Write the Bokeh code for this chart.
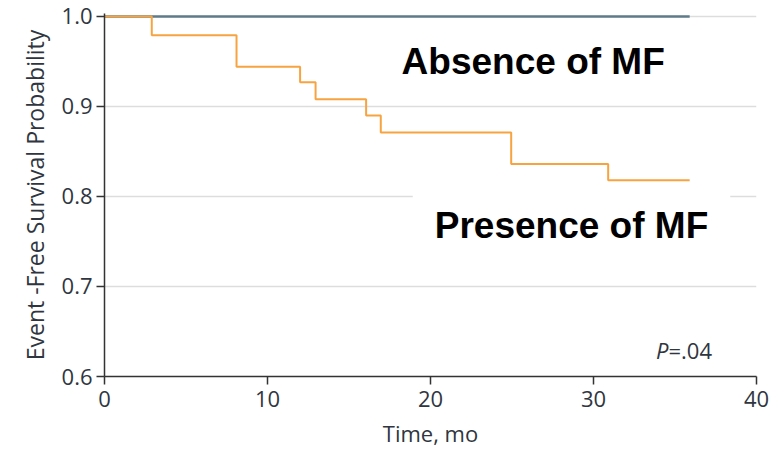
from bokeh.plotting import figure
from bokeh.models import Range1d, Label, FixedTicker
from bokeh.embed import file_html
from bokeh.resources import INLINE

# Data
presence_time = [0, 2.9, 8.1, 12.0, 12.95, 16.05, 16.95, 24.95, 30.9, 35.9]
presence_surv = [1.0, 0.979, 0.944, 0.927, 0.908, 0.890, 0.871, 0.836, 0.818, 0.818]
absence_time = [0, 35.9]
absence_surv = [1.0, 1.0]
x_ticks = [0, 10, 20, 30, 40]
y_ticks = [0.6, 0.7, 0.8, 0.9, 1.0]

TICK_FONT = "Open Sans"

p = figure(width=771, height=450, output_backend="svg", toolbar_location=None,
           x_range=Range1d(0, 40), y_range=Range1d(0.6, 1.0033),
           min_border_left=104, min_border_right=15, min_border_top=13, min_border_bottom=70)

p.outline_line_color = None
p.background_fill_color = "white"
p.xgrid.grid_line_color = None
p.ygrid.grid_line_color = "#dddddd"
p.ygrid.grid_line_width = 1.5

p.xaxis.ticker = FixedTicker(ticks=x_ticks)
p.yaxis.ticker = FixedTicker(ticks=y_ticks)
p.yaxis.major_label_overrides = {t: f"{t:.1f}" for t in y_ticks}
for ax in (p.xaxis, p.yaxis):
    ax.axis_line_color = "#333333"
    ax.axis_line_width = 1.5
    ax.major_tick_line_color = "#333333"
    ax.major_tick_line_width = 1.5
    ax.major_tick_out = 8
    ax.major_tick_in = 0
    ax.minor_tick_line_color = None
    ax.major_label_text_font = TICK_FONT
    ax.major_label_text_font_size = "22px"
    ax.major_label_text_color = "#2f3640"
    ax.axis_label_text_font = TICK_FONT
    ax.axis_label_text_font_style = "normal"
    ax.axis_label_text_color = "#2f3640"

p.xaxis.axis_label_text_font_size = "22px"
p.yaxis.axis_label_text_font_size = "23px"
p.xaxis.axis_label = "Time, mo"
p.yaxis.axis_label = "Event -Free Survival Probability"
p.xaxis.major_label_standoff = 6
p.yaxis.major_label_standoff = 4
p.xaxis.axis_label_standoff = 8
p.yaxis.axis_label_standoff = 8

p.line(absence_time, absence_surv, line_color="#5f7b88", line_width=2.5)
p.step(presence_time, presence_surv, mode="after", line_color="#f7a440", line_width=2)

lab1 = Label(x=26.3, y=0.9495, text="Absence of MF", text_align="center", text_baseline="middle",
             text_font="Liberation Sans", text_font_style="bold", text_font_size="37px",
             text_color="black")
lab2 = Label(x=28.65, y=0.768, text="Presence of MF", text_align="center", text_baseline="middle",
             text_font="Liberation Sans", text_font_style="bold", text_font_size="37px",
             text_color="black", background_fill_color="white", padding=22)
p.add_layout(lab2)
p.add_layout(lab1)

pl1 = Label(x=34.6, y=0.6297, text="P", text_align="right", text_baseline="alphabetic",
            text_font=TICK_FONT, text_font_style="italic", text_font_size="22px", text_color="#2f3640")
pl2 = Label(x=34.6, y=0.6297, text="=.04", text_align="left", text_baseline="alphabetic",
            text_font=TICK_FONT, text_font_size="22px", text_color="#2f3640")
p.add_layout(pl1)
p.add_layout(pl2)

open("out.html", "w").write(file_html(p, INLINE))
